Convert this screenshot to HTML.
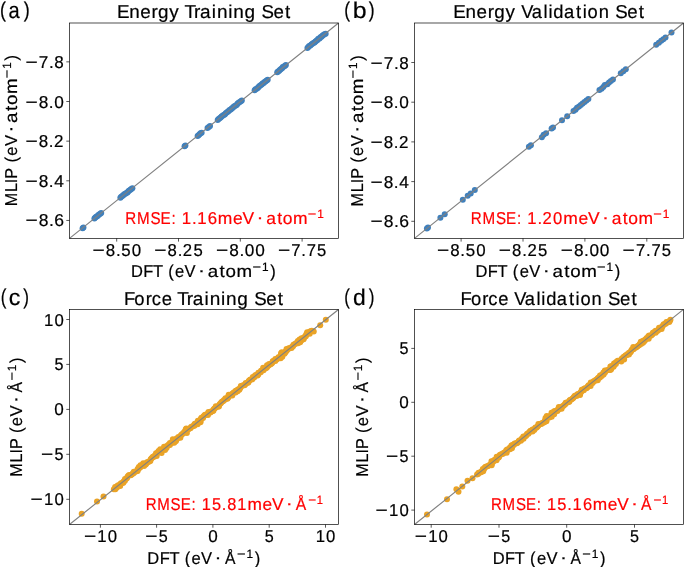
<!DOCTYPE html>
<html><head><meta charset="utf-8"><style>
html,body{margin:0;padding:0;background:#fff;}
svg{display:block;will-change:transform;text-rendering:geometricPrecision;font-family:"Liberation Sans",sans-serif;}
</style></head><body>
<svg width="685" height="567" viewBox="0 0 685 567">
<rect width="685" height="567" fill="#fff"/>
<g fill="#4080bc">
<circle cx="82.62" cy="228.14" r="3.0"/>
<circle cx="83.44" cy="227.52" r="3.0"/>
<circle cx="94.41" cy="218.47" r="3.0"/>
<circle cx="95.30" cy="217.59" r="3.0"/>
<circle cx="96.24" cy="216.78" r="3.0"/>
<circle cx="97.32" cy="216.13" r="3.0"/>
<circle cx="98.19" cy="215.23" r="3.0"/>
<circle cx="99.12" cy="214.40" r="3.0"/>
<circle cx="100.25" cy="213.82" r="3.0"/>
<circle cx="101.21" cy="213.03" r="3.0"/>
<circle cx="120.35" cy="197.79" r="3.0"/>
<circle cx="121.21" cy="196.81" r="3.0"/>
<circle cx="122.30" cy="196.12" r="3.0"/>
<circle cx="123.29" cy="195.31" r="3.0"/>
<circle cx="124.16" cy="194.34" r="3.0"/>
<circle cx="125.35" cy="193.78" r="3.0"/>
<circle cx="126.33" cy="192.96" r="3.0"/>
<circle cx="127.52" cy="192.40" r="3.0"/>
<circle cx="128.32" cy="191.34" r="3.0"/>
<circle cx="129.29" cy="190.50" r="3.0"/>
<circle cx="130.42" cy="189.86" r="3.0"/>
<circle cx="131.32" cy="188.94" r="3.0"/>
<circle cx="132.39" cy="188.22" r="3.0"/>
<circle cx="184.57" cy="146.19" r="3.0"/>
<circle cx="185.42" cy="145.62" r="3.0"/>
<circle cx="197.60" cy="136.02" r="3.0"/>
<circle cx="198.59" cy="135.17" r="3.0"/>
<circle cx="199.56" cy="134.28" r="3.0"/>
<circle cx="200.47" cy="133.32" r="3.0"/>
<circle cx="201.64" cy="132.67" r="3.0"/>
<circle cx="207.51" cy="127.91" r="3.0"/>
<circle cx="208.82" cy="126.98" r="3.0"/>
<circle cx="210.02" cy="125.92" r="3.0"/>
<circle cx="217.70" cy="119.94" r="3.0"/>
<circle cx="218.60" cy="119.00" r="3.0"/>
<circle cx="219.64" cy="118.22" r="3.0"/>
<circle cx="220.69" cy="117.47" r="3.0"/>
<circle cx="221.53" cy="116.45" r="3.0"/>
<circle cx="222.60" cy="115.73" r="3.0"/>
<circle cx="223.60" cy="114.91" r="3.0"/>
<circle cx="224.84" cy="114.39" r="3.0"/>
<circle cx="225.66" cy="113.34" r="3.0"/>
<circle cx="226.74" cy="112.62" r="3.0"/>
<circle cx="227.74" cy="111.81" r="3.0"/>
<circle cx="228.67" cy="110.90" r="3.0"/>
<circle cx="229.55" cy="109.94" r="3.0"/>
<circle cx="230.80" cy="109.43" r="3.0"/>
<circle cx="231.68" cy="108.46" r="3.0"/>
<circle cx="232.79" cy="107.78" r="3.0"/>
<circle cx="233.61" cy="106.74" r="3.0"/>
<circle cx="234.70" cy="106.03" r="3.0"/>
<circle cx="235.87" cy="105.42" r="3.0"/>
<circle cx="236.89" cy="104.64" r="3.0"/>
<circle cx="237.64" cy="103.51" r="3.0"/>
<circle cx="238.65" cy="102.70" r="3.0"/>
<circle cx="239.78" cy="102.04" r="3.0"/>
<circle cx="240.86" cy="101.32" r="3.0"/>
<circle cx="241.82" cy="100.45" r="3.0"/>
<circle cx="254.63" cy="90.22" r="3.0"/>
<circle cx="255.51" cy="89.26" r="3.0"/>
<circle cx="256.67" cy="88.64" r="3.0"/>
<circle cx="257.73" cy="87.89" r="3.0"/>
<circle cx="258.59" cy="86.90" r="3.0"/>
<circle cx="259.50" cy="85.98" r="3.0"/>
<circle cx="260.58" cy="85.25" r="3.0"/>
<circle cx="261.73" cy="84.62" r="3.0"/>
<circle cx="262.50" cy="83.52" r="3.0"/>
<circle cx="263.66" cy="82.91" r="3.0"/>
<circle cx="264.58" cy="82.00" r="3.0"/>
<circle cx="265.67" cy="81.29" r="3.0"/>
<circle cx="266.67" cy="80.47" r="3.0"/>
<circle cx="267.70" cy="79.69" r="3.0"/>
<circle cx="277.24" cy="72.34" r="3.0"/>
<circle cx="278.13" cy="71.42" r="3.0"/>
<circle cx="279.20" cy="70.74" r="3.0"/>
<circle cx="280.05" cy="69.77" r="3.0"/>
<circle cx="281.01" cy="68.94" r="3.0"/>
<circle cx="282.08" cy="68.25" r="3.0"/>
<circle cx="282.77" cy="67.08" r="3.0"/>
<circle cx="284.02" cy="66.62" r="3.0"/>
<circle cx="285.03" cy="65.85" r="3.0"/>
<circle cx="285.88" cy="64.89" r="3.0"/>
<circle cx="307.44" cy="47.96" r="3.0"/>
<circle cx="308.35" cy="47.03" r="3.0"/>
<circle cx="309.18" cy="46.00" r="3.0"/>
<circle cx="310.40" cy="45.46" r="3.0"/>
<circle cx="311.33" cy="44.57" r="3.0"/>
<circle cx="312.38" cy="43.82" r="3.0"/>
<circle cx="313.42" cy="43.05" r="3.0"/>
<circle cx="314.56" cy="42.41" r="3.0"/>
<circle cx="315.45" cy="41.47" r="3.0"/>
<circle cx="316.45" cy="40.65" r="3.0"/>
<circle cx="317.49" cy="39.90" r="3.0"/>
<circle cx="318.29" cy="38.83" r="3.0"/>
<circle cx="319.58" cy="38.39" r="3.0"/>
<circle cx="320.37" cy="37.31" r="3.0"/>
<circle cx="321.52" cy="36.68" r="3.0"/>
<circle cx="322.38" cy="35.69" r="3.0"/>
<circle cx="323.40" cy="34.91" r="3.0"/>
<circle cx="324.46" cy="34.17" r="3.0"/>
<circle cx="325.68" cy="33.63" r="3.0"/>
</g>
<g fill="#4080bc">
<circle cx="426.90" cy="228.47" r="3.0"/>
<circle cx="428.00" cy="227.59" r="3.0"/>
<circle cx="440.40" cy="217.66" r="3.0"/>
<circle cx="444.70" cy="214.22" r="3.0"/>
<circle cx="462.80" cy="199.72" r="3.0"/>
<circle cx="467.70" cy="195.80" r="3.0"/>
<circle cx="470.70" cy="193.40" r="3.0"/>
<circle cx="474.80" cy="190.12" r="3.0"/>
<circle cx="528.90" cy="146.79" r="3.0"/>
<circle cx="530.90" cy="145.19" r="3.0"/>
<circle cx="541.87" cy="137.16" r="3.0"/>
<circle cx="543.65" cy="134.77" r="3.0"/>
<circle cx="546.06" cy="133.18" r="3.0"/>
<circle cx="551.60" cy="128.62" r="3.0"/>
<circle cx="553.00" cy="127.50" r="3.0"/>
<circle cx="562.00" cy="120.29" r="3.0"/>
<circle cx="567.20" cy="116.13" r="3.0"/>
<circle cx="573.52" cy="111.11" r="3.0"/>
<circle cx="575.49" cy="109.75" r="3.0"/>
<circle cx="577.01" cy="107.83" r="3.0"/>
<circle cx="579.02" cy="106.53" r="3.0"/>
<circle cx="580.83" cy="104.97" r="3.0"/>
<circle cx="582.64" cy="103.42" r="3.0"/>
<circle cx="584.54" cy="101.97" r="3.0"/>
<circle cx="586.46" cy="100.54" r="3.0"/>
<circle cx="588.36" cy="99.09" r="3.0"/>
<circle cx="599.46" cy="90.01" r="3.0"/>
<circle cx="601.57" cy="88.74" r="3.0"/>
<circle cx="603.31" cy="87.03" r="3.0"/>
<circle cx="604.80" cy="84.99" r="3.0"/>
<circle cx="607.39" cy="84.33" r="3.0"/>
<circle cx="609.04" cy="82.50" r="3.0"/>
<circle cx="610.88" cy="80.91" r="3.0"/>
<circle cx="612.94" cy="79.58" r="3.0"/>
<circle cx="620.80" cy="73.21" r="3.0"/>
<circle cx="623.30" cy="71.20" r="3.0"/>
<circle cx="625.80" cy="69.20" r="3.0"/>
<circle cx="656.20" cy="44.86" r="3.0"/>
<circle cx="658.90" cy="42.70" r="3.0"/>
<circle cx="661.20" cy="40.86" r="3.0"/>
<circle cx="663.30" cy="39.18" r="3.0"/>
<circle cx="665.50" cy="37.41" r="3.0"/>
<circle cx="671.50" cy="32.61" r="3.0"/>
</g>
<g fill="#eaa326">
<circle cx="113.85" cy="489.16" r="3.0"/>
<circle cx="115.36" cy="489.20" r="3.0"/>
<circle cx="115.11" cy="487.04" r="3.0"/>
<circle cx="117.03" cy="487.59" r="3.0"/>
<circle cx="117.26" cy="486.04" r="3.0"/>
<circle cx="118.16" cy="485.32" r="3.0"/>
<circle cx="120.21" cy="486.04" r="3.0"/>
<circle cx="120.18" cy="484.16" r="3.0"/>
<circle cx="120.98" cy="483.31" r="3.0"/>
<circle cx="122.29" cy="483.10" r="3.0"/>
<circle cx="123.40" cy="482.65" r="3.0"/>
<circle cx="123.68" cy="481.16" r="3.0"/>
<circle cx="124.91" cy="480.85" r="3.0"/>
<circle cx="124.98" cy="479.10" r="3.0"/>
<circle cx="126.21" cy="478.78" r="3.0"/>
<circle cx="127.07" cy="478.01" r="3.0"/>
<circle cx="127.49" cy="476.70" r="3.0"/>
<circle cx="128.30" cy="475.86" r="3.0"/>
<circle cx="129.14" cy="475.06" r="3.0"/>
<circle cx="130.77" cy="475.27" r="3.0"/>
<circle cx="131.71" cy="474.59" r="3.0"/>
<circle cx="132.53" cy="473.77" r="3.0"/>
<circle cx="133.64" cy="473.31" r="3.0"/>
<circle cx="133.79" cy="471.66" r="3.0"/>
<circle cx="135.36" cy="471.78" r="3.0"/>
<circle cx="136.43" cy="471.27" r="3.0"/>
<circle cx="137.60" cy="470.89" r="3.0"/>
<circle cx="137.65" cy="469.11" r="3.0"/>
<circle cx="138.79" cy="468.69" r="3.0"/>
<circle cx="138.83" cy="466.89" r="3.0"/>
<circle cx="140.53" cy="467.18" r="3.0"/>
<circle cx="140.53" cy="465.34" r="3.0"/>
<circle cx="141.85" cy="465.13" r="3.0"/>
<circle cx="144.08" cy="466.09" r="3.0"/>
<circle cx="143.23" cy="463.17" r="3.0"/>
<circle cx="145.72" cy="464.45" r="3.0"/>
<circle cx="146.37" cy="463.41" r="3.0"/>
<circle cx="146.93" cy="462.27" r="3.0"/>
<circle cx="148.24" cy="462.06" r="3.0"/>
<circle cx="149.18" cy="461.39" r="3.0"/>
<circle cx="150.35" cy="461.01" r="3.0"/>
<circle cx="150.58" cy="459.45" r="3.0"/>
<circle cx="151.29" cy="458.49" r="3.0"/>
<circle cx="152.18" cy="457.76" r="3.0"/>
<circle cx="152.88" cy="456.79" r="3.0"/>
<circle cx="154.28" cy="456.69" r="3.0"/>
<circle cx="154.78" cy="455.48" r="3.0"/>
<circle cx="156.67" cy="455.99" r="3.0"/>
<circle cx="156.01" cy="453.32" r="3.0"/>
<circle cx="157.32" cy="453.12" r="3.0"/>
<circle cx="158.29" cy="452.49" r="3.0"/>
<circle cx="158.59" cy="451.02" r="3.0"/>
<circle cx="161.61" cy="452.95" r="3.0"/>
<circle cx="160.22" cy="449.37" r="3.0"/>
<circle cx="162.25" cy="450.06" r="3.0"/>
<circle cx="163.02" cy="449.18" r="3.0"/>
<circle cx="165.08" cy="449.91" r="3.0"/>
<circle cx="164.05" cy="446.77" r="3.0"/>
<circle cx="166.57" cy="448.08" r="3.0"/>
<circle cx="166.51" cy="446.17" r="3.0"/>
<circle cx="167.72" cy="445.83" r="3.0"/>
<circle cx="168.34" cy="444.77" r="3.0"/>
<circle cx="169.94" cy="444.92" r="3.0"/>
<circle cx="169.90" cy="443.02" r="3.0"/>
<circle cx="171.36" cy="443.00" r="3.0"/>
<circle cx="172.49" cy="442.57" r="3.0"/>
<circle cx="174.18" cy="442.84" r="3.0"/>
<circle cx="172.82" cy="439.30" r="3.0"/>
<circle cx="175.81" cy="441.19" r="3.0"/>
<circle cx="176.40" cy="440.09" r="3.0"/>
<circle cx="176.54" cy="438.42" r="3.0"/>
<circle cx="177.86" cy="438.22" r="3.0"/>
<circle cx="178.35" cy="436.99" r="3.0"/>
<circle cx="180.37" cy="437.68" r="3.0"/>
<circle cx="180.51" cy="436.00" r="3.0"/>
<circle cx="181.19" cy="435.00" r="3.0"/>
<circle cx="182.08" cy="434.27" r="3.0"/>
<circle cx="182.99" cy="433.57" r="3.0"/>
<circle cx="183.91" cy="432.87" r="3.0"/>
<circle cx="184.43" cy="431.68" r="3.0"/>
<circle cx="186.89" cy="432.91" r="3.0"/>
<circle cx="185.69" cy="429.56" r="3.0"/>
<circle cx="186.23" cy="428.39" r="3.0"/>
<circle cx="188.43" cy="429.31" r="3.0"/>
<circle cx="189.32" cy="428.57" r="3.0"/>
<circle cx="190.50" cy="428.20" r="3.0"/>
<circle cx="191.09" cy="427.09" r="3.0"/>
<circle cx="192.02" cy="426.41" r="3.0"/>
<circle cx="193.18" cy="426.01" r="3.0"/>
<circle cx="194.41" cy="425.72" r="3.0"/>
<circle cx="194.56" cy="424.06" r="3.0"/>
<circle cx="195.50" cy="423.39" r="3.0"/>
<circle cx="197.63" cy="424.20" r="3.0"/>
<circle cx="197.78" cy="422.55" r="3.0"/>
<circle cx="197.88" cy="420.82" r="3.0"/>
<circle cx="200.53" cy="422.30" r="3.0"/>
<circle cx="200.61" cy="420.55" r="3.0"/>
<circle cx="200.79" cy="418.93" r="3.0"/>
<circle cx="201.38" cy="417.82" r="3.0"/>
<circle cx="203.06" cy="418.08" r="3.0"/>
<circle cx="203.36" cy="416.61" r="3.0"/>
<circle cx="204.14" cy="415.74" r="3.0"/>
<circle cx="204.91" cy="414.86" r="3.0"/>
<circle cx="206.23" cy="414.67" r="3.0"/>
<circle cx="207.99" cy="415.02" r="3.0"/>
<circle cx="208.07" cy="413.28" r="3.0"/>
<circle cx="208.43" cy="411.88" r="3.0"/>
<circle cx="210.45" cy="412.57" r="3.0"/>
<circle cx="211.03" cy="411.45" r="3.0"/>
<circle cx="212.35" cy="411.25" r="3.0"/>
<circle cx="213.44" cy="410.76" r="3.0"/>
<circle cx="213.61" cy="409.14" r="3.0"/>
<circle cx="214.52" cy="408.43" r="3.0"/>
<circle cx="215.48" cy="407.78" r="3.0"/>
<circle cx="215.80" cy="406.34" r="3.0"/>
<circle cx="217.66" cy="406.81" r="3.0"/>
<circle cx="218.93" cy="406.56" r="3.0"/>
<circle cx="219.19" cy="405.05" r="3.0"/>
<circle cx="219.87" cy="404.05" r="3.0"/>
<circle cx="220.76" cy="403.32" r="3.0"/>
<circle cx="221.39" cy="402.25" r="3.0"/>
<circle cx="222.27" cy="401.52" r="3.0"/>
<circle cx="223.39" cy="401.07" r="3.0"/>
<circle cx="224.05" cy="400.06" r="3.0"/>
<circle cx="225.17" cy="399.61" r="3.0"/>
<circle cx="225.46" cy="398.13" r="3.0"/>
<circle cx="227.39" cy="398.69" r="3.0"/>
<circle cx="228.13" cy="397.77" r="3.0"/>
<circle cx="228.39" cy="396.25" r="3.0"/>
<circle cx="228.68" cy="394.77" r="3.0"/>
<circle cx="230.80" cy="395.57" r="3.0"/>
<circle cx="232.29" cy="395.59" r="3.0"/>
<circle cx="232.21" cy="393.65" r="3.0"/>
<circle cx="233.24" cy="393.10" r="3.0"/>
<circle cx="234.10" cy="392.33" r="3.0"/>
<circle cx="235.65" cy="392.42" r="3.0"/>
<circle cx="235.71" cy="390.66" r="3.0"/>
<circle cx="237.62" cy="391.20" r="3.0"/>
<circle cx="237.84" cy="389.62" r="3.0"/>
<circle cx="239.39" cy="389.72" r="3.0"/>
<circle cx="239.82" cy="388.41" r="3.0"/>
<circle cx="240.58" cy="387.51" r="3.0"/>
<circle cx="240.82" cy="385.97" r="3.0"/>
<circle cx="242.14" cy="385.77" r="3.0"/>
<circle cx="243.26" cy="385.34" r="3.0"/>
<circle cx="244.65" cy="385.23" r="3.0"/>
<circle cx="245.33" cy="384.23" r="3.0"/>
<circle cx="245.73" cy="382.89" r="3.0"/>
<circle cx="247.22" cy="382.90" r="3.0"/>
<circle cx="248.42" cy="382.57" r="3.0"/>
<circle cx="248.72" cy="381.09" r="3.0"/>
<circle cx="249.47" cy="380.18" r="3.0"/>
<circle cx="250.39" cy="379.49" r="3.0"/>
<circle cx="251.93" cy="379.57" r="3.0"/>
<circle cx="252.69" cy="378.67" r="3.0"/>
<circle cx="252.81" cy="376.98" r="3.0"/>
<circle cx="254.40" cy="377.13" r="3.0"/>
<circle cx="254.85" cy="375.84" r="3.0"/>
<circle cx="255.60" cy="374.94" r="3.0"/>
<circle cx="257.56" cy="375.54" r="3.0"/>
<circle cx="258.24" cy="374.55" r="3.0"/>
<circle cx="258.32" cy="372.80" r="3.0"/>
<circle cx="259.64" cy="372.61" r="3.0"/>
<circle cx="260.77" cy="372.17" r="3.0"/>
<circle cx="261.06" cy="370.70" r="3.0"/>
<circle cx="262.24" cy="370.32" r="3.0"/>
<circle cx="263.55" cy="370.13" r="3.0"/>
<circle cx="263.15" cy="367.78" r="3.0"/>
<circle cx="265.17" cy="368.46" r="3.0"/>
<circle cx="266.29" cy="368.02" r="3.0"/>
<circle cx="267.07" cy="367.14" r="3.0"/>
<circle cx="266.99" cy="365.20" r="3.0"/>
<circle cx="268.77" cy="365.58" r="3.0"/>
<circle cx="269.04" cy="364.08" r="3.0"/>
<circle cx="270.70" cy="364.31" r="3.0"/>
<circle cx="271.62" cy="363.61" r="3.0"/>
<circle cx="272.31" cy="362.63" r="3.0"/>
<circle cx="272.69" cy="361.26" r="3.0"/>
<circle cx="273.69" cy="360.66" r="3.0"/>
<circle cx="275.35" cy="360.90" r="3.0"/>
<circle cx="275.32" cy="359.02" r="3.0"/>
<circle cx="276.96" cy="359.22" r="3.0"/>
<circle cx="277.87" cy="358.51" r="3.0"/>
<circle cx="278.35" cy="357.27" r="3.0"/>
<circle cx="280.67" cy="358.33" r="3.0"/>
<circle cx="280.34" cy="356.06" r="3.0"/>
<circle cx="282.34" cy="356.72" r="3.0"/>
<circle cx="281.03" cy="353.24" r="3.0"/>
<circle cx="281.81" cy="352.37" r="3.0"/>
<circle cx="284.42" cy="353.79" r="3.0"/>
<circle cx="285.14" cy="352.84" r="3.0"/>
<circle cx="285.53" cy="351.49" r="3.0"/>
<circle cx="286.57" cy="350.95" r="3.0"/>
<circle cx="286.49" cy="349.00" r="3.0"/>
<circle cx="288.07" cy="349.13" r="3.0"/>
<circle cx="288.75" cy="348.14" r="3.0"/>
<circle cx="290.08" cy="347.96" r="3.0"/>
<circle cx="291.57" cy="347.97" r="3.0"/>
<circle cx="292.03" cy="346.70" r="3.0"/>
<circle cx="293.10" cy="346.19" r="3.0"/>
<circle cx="293.43" cy="344.76" r="3.0"/>
<circle cx="294.47" cy="344.22" r="3.0"/>
<circle cx="295.66" cy="343.86" r="3.0"/>
<circle cx="296.35" cy="342.88" r="3.0"/>
<circle cx="298.07" cy="343.19" r="3.0"/>
<circle cx="297.84" cy="341.05" r="3.0"/>
<circle cx="300.20" cy="342.17" r="3.0"/>
<circle cx="299.58" cy="339.54" r="3.0"/>
<circle cx="301.56" cy="340.18" r="3.0"/>
<circle cx="301.49" cy="338.24" r="3.0"/>
<circle cx="303.67" cy="339.13" r="3.0"/>
<circle cx="303.77" cy="337.40" r="3.0"/>
<circle cx="304.81" cy="336.86" r="3.0"/>
<circle cx="305.90" cy="336.37" r="3.0"/>
<circle cx="306.06" cy="334.73" r="3.0"/>
<circle cx="306.75" cy="333.74" r="3.0"/>
<circle cx="307.12" cy="332.37" r="3.0"/>
<circle cx="309.75" cy="333.81" r="3.0"/>
<circle cx="309.63" cy="331.82" r="3.0"/>
<circle cx="310.59" cy="331.17" r="3.0"/>
<circle cx="311.78" cy="330.82" r="3.0"/>
<circle cx="313.76" cy="331.44" r="3.0"/>
<circle cx="81.70" cy="513.80" r="3.0"/>
<circle cx="97.00" cy="501.50" r="3.0"/>
<circle cx="103.50" cy="496.50" r="3.0"/>
<circle cx="320.20" cy="325.30" r="3.0"/>
<circle cx="325.80" cy="319.80" r="3.0"/>
</g>
<g fill="#eaa326">
<circle cx="477.02" cy="474.55" r="3.0"/>
<circle cx="478.15" cy="474.11" r="3.0"/>
<circle cx="478.56" cy="472.78" r="3.0"/>
<circle cx="479.89" cy="472.60" r="3.0"/>
<circle cx="481.09" cy="472.26" r="3.0"/>
<circle cx="481.72" cy="471.20" r="3.0"/>
<circle cx="483.23" cy="471.24" r="3.0"/>
<circle cx="482.83" cy="468.90" r="3.0"/>
<circle cx="484.24" cy="468.81" r="3.0"/>
<circle cx="484.73" cy="467.58" r="3.0"/>
<circle cx="485.58" cy="466.81" r="3.0"/>
<circle cx="486.80" cy="466.48" r="3.0"/>
<circle cx="487.92" cy="466.03" r="3.0"/>
<circle cx="488.92" cy="465.45" r="3.0"/>
<circle cx="489.87" cy="464.79" r="3.0"/>
<circle cx="491.69" cy="465.21" r="3.0"/>
<circle cx="491.86" cy="463.58" r="3.0"/>
<circle cx="491.45" cy="461.23" r="3.0"/>
<circle cx="493.31" cy="461.70" r="3.0"/>
<circle cx="493.77" cy="460.44" r="3.0"/>
<circle cx="494.73" cy="459.79" r="3.0"/>
<circle cx="496.59" cy="460.28" r="3.0"/>
<circle cx="496.68" cy="458.54" r="3.0"/>
<circle cx="496.66" cy="456.68" r="3.0"/>
<circle cx="498.76" cy="457.46" r="3.0"/>
<circle cx="499.35" cy="456.34" r="3.0"/>
<circle cx="499.78" cy="455.03" r="3.0"/>
<circle cx="500.81" cy="454.48" r="3.0"/>
<circle cx="501.87" cy="453.96" r="3.0"/>
<circle cx="503.09" cy="453.64" r="3.0"/>
<circle cx="503.77" cy="452.65" r="3.0"/>
<circle cx="504.94" cy="452.26" r="3.0"/>
<circle cx="506.77" cy="452.71" r="3.0"/>
<circle cx="506.28" cy="450.24" r="3.0"/>
<circle cx="507.17" cy="449.52" r="3.0"/>
<circle cx="508.37" cy="449.17" r="3.0"/>
<circle cx="509.98" cy="449.34" r="3.0"/>
<circle cx="509.93" cy="447.43" r="3.0"/>
<circle cx="511.96" cy="448.13" r="3.0"/>
<circle cx="511.41" cy="445.59" r="3.0"/>
<circle cx="512.45" cy="445.05" r="3.0"/>
<circle cx="513.87" cy="444.98" r="3.0"/>
<circle cx="514.34" cy="443.72" r="3.0"/>
<circle cx="515.37" cy="443.17" r="3.0"/>
<circle cx="516.84" cy="443.16" r="3.0"/>
<circle cx="517.88" cy="442.62" r="3.0"/>
<circle cx="518.46" cy="441.49" r="3.0"/>
<circle cx="519.15" cy="440.52" r="3.0"/>
<circle cx="520.91" cy="440.87" r="3.0"/>
<circle cx="521.31" cy="439.53" r="3.0"/>
<circle cx="521.88" cy="438.38" r="3.0"/>
<circle cx="523.54" cy="438.63" r="3.0"/>
<circle cx="523.32" cy="436.50" r="3.0"/>
<circle cx="524.79" cy="436.49" r="3.0"/>
<circle cx="525.95" cy="436.10" r="3.0"/>
<circle cx="526.49" cy="434.93" r="3.0"/>
<circle cx="527.10" cy="433.84" r="3.0"/>
<circle cx="528.49" cy="433.74" r="3.0"/>
<circle cx="528.91" cy="432.42" r="3.0"/>
<circle cx="529.78" cy="431.67" r="3.0"/>
<circle cx="530.46" cy="430.66" r="3.0"/>
<circle cx="532.59" cy="431.49" r="3.0"/>
<circle cx="532.51" cy="429.54" r="3.0"/>
<circle cx="534.31" cy="429.95" r="3.0"/>
<circle cx="534.80" cy="428.72" r="3.0"/>
<circle cx="535.36" cy="427.57" r="3.0"/>
<circle cx="536.75" cy="427.47" r="3.0"/>
<circle cx="537.44" cy="426.49" r="3.0"/>
<circle cx="538.27" cy="425.67" r="3.0"/>
<circle cx="538.37" cy="423.95" r="3.0"/>
<circle cx="540.04" cy="424.19" r="3.0"/>
<circle cx="541.37" cy="424.02" r="3.0"/>
<circle cx="542.06" cy="423.03" r="3.0"/>
<circle cx="543.23" cy="422.65" r="3.0"/>
<circle cx="544.39" cy="422.26" r="3.0"/>
<circle cx="544.72" cy="420.82" r="3.0"/>
<circle cx="546.45" cy="421.14" r="3.0"/>
<circle cx="545.50" cy="418.10" r="3.0"/>
<circle cx="547.07" cy="418.23" r="3.0"/>
<circle cx="546.76" cy="415.99" r="3.0"/>
<circle cx="549.44" cy="417.49" r="3.0"/>
<circle cx="549.95" cy="416.29" r="3.0"/>
<circle cx="551.70" cy="416.63" r="3.0"/>
<circle cx="551.51" cy="414.55" r="3.0"/>
<circle cx="551.52" cy="412.73" r="3.0"/>
<circle cx="554.18" cy="414.20" r="3.0"/>
<circle cx="553.69" cy="411.74" r="3.0"/>
<circle cx="554.63" cy="411.07" r="3.0"/>
<circle cx="556.11" cy="411.08" r="3.0"/>
<circle cx="557.43" cy="410.89" r="3.0"/>
<circle cx="557.73" cy="409.42" r="3.0"/>
<circle cx="559.00" cy="409.16" r="3.0"/>
<circle cx="558.80" cy="407.07" r="3.0"/>
<circle cx="561.62" cy="408.74" r="3.0"/>
<circle cx="561.56" cy="406.83" r="3.0"/>
<circle cx="562.56" cy="406.23" r="3.0"/>
<circle cx="563.71" cy="405.82" r="3.0"/>
<circle cx="564.39" cy="404.83" r="3.0"/>
<circle cx="565.31" cy="404.13" r="3.0"/>
<circle cx="565.61" cy="402.66" r="3.0"/>
<circle cx="566.94" cy="402.48" r="3.0"/>
<circle cx="568.13" cy="402.13" r="3.0"/>
<circle cx="569.35" cy="401.81" r="3.0"/>
<circle cx="569.64" cy="400.32" r="3.0"/>
<circle cx="570.65" cy="399.74" r="3.0"/>
<circle cx="571.68" cy="399.18" r="3.0"/>
<circle cx="572.70" cy="398.62" r="3.0"/>
<circle cx="573.41" cy="397.66" r="3.0"/>
<circle cx="574.07" cy="396.63" r="3.0"/>
<circle cx="574.83" cy="395.74" r="3.0"/>
<circle cx="576.60" cy="396.11" r="3.0"/>
<circle cx="577.06" cy="394.84" r="3.0"/>
<circle cx="577.81" cy="393.93" r="3.0"/>
<circle cx="580.07" cy="394.92" r="3.0"/>
<circle cx="580.07" cy="393.07" r="3.0"/>
<circle cx="580.95" cy="392.33" r="3.0"/>
<circle cx="581.48" cy="391.14" r="3.0"/>
<circle cx="581.76" cy="389.65" r="3.0"/>
<circle cx="583.80" cy="390.36" r="3.0"/>
<circle cx="584.05" cy="388.82" r="3.0"/>
<circle cx="585.03" cy="388.20" r="3.0"/>
<circle cx="586.45" cy="388.13" r="3.0"/>
<circle cx="587.34" cy="387.40" r="3.0"/>
<circle cx="587.83" cy="386.16" r="3.0"/>
<circle cx="588.61" cy="385.30" r="3.0"/>
<circle cx="590.61" cy="385.96" r="3.0"/>
<circle cx="590.70" cy="384.23" r="3.0"/>
<circle cx="590.76" cy="382.44" r="3.0"/>
<circle cx="592.60" cy="382.90" r="3.0"/>
<circle cx="593.18" cy="381.79" r="3.0"/>
<circle cx="594.02" cy="380.99" r="3.0"/>
<circle cx="595.26" cy="380.70" r="3.0"/>
<circle cx="595.92" cy="379.68" r="3.0"/>
<circle cx="597.76" cy="380.14" r="3.0"/>
<circle cx="597.71" cy="378.22" r="3.0"/>
<circle cx="598.63" cy="377.54" r="3.0"/>
<circle cx="600.02" cy="377.42" r="3.0"/>
<circle cx="600.00" cy="375.55" r="3.0"/>
<circle cx="601.74" cy="375.88" r="3.0"/>
<circle cx="602.07" cy="374.45" r="3.0"/>
<circle cx="603.63" cy="374.56" r="3.0"/>
<circle cx="603.45" cy="372.49" r="3.0"/>
<circle cx="605.02" cy="372.61" r="3.0"/>
<circle cx="604.85" cy="370.55" r="3.0"/>
<circle cx="606.37" cy="370.60" r="3.0"/>
<circle cx="607.51" cy="370.18" r="3.0"/>
<circle cx="608.66" cy="369.78" r="3.0"/>
<circle cx="610.35" cy="370.04" r="3.0"/>
<circle cx="611.18" cy="369.23" r="3.0"/>
<circle cx="610.39" cy="366.40" r="3.0"/>
<circle cx="611.60" cy="366.07" r="3.0"/>
<circle cx="613.56" cy="366.68" r="3.0"/>
<circle cx="614.03" cy="365.43" r="3.0"/>
<circle cx="613.98" cy="363.51" r="3.0"/>
<circle cx="615.86" cy="364.02" r="3.0"/>
<circle cx="615.90" cy="362.23" r="3.0"/>
<circle cx="616.94" cy="361.69" r="3.0"/>
<circle cx="617.63" cy="360.70" r="3.0"/>
<circle cx="619.06" cy="360.64" r="3.0"/>
<circle cx="621.29" cy="361.59" r="3.0"/>
<circle cx="621.20" cy="359.63" r="3.0"/>
<circle cx="621.84" cy="358.59" r="3.0"/>
<circle cx="624.13" cy="359.61" r="3.0"/>
<circle cx="623.45" cy="356.91" r="3.0"/>
<circle cx="624.52" cy="356.40" r="3.0"/>
<circle cx="625.36" cy="355.60" r="3.0"/>
<circle cx="626.62" cy="355.34" r="3.0"/>
<circle cx="627.14" cy="354.13" r="3.0"/>
<circle cx="628.97" cy="354.59" r="3.0"/>
<circle cx="628.95" cy="352.71" r="3.0"/>
<circle cx="630.30" cy="352.55" r="3.0"/>
<circle cx="631.02" cy="351.61" r="3.0"/>
<circle cx="631.35" cy="350.17" r="3.0"/>
<circle cx="632.18" cy="349.37" r="3.0"/>
<circle cx="633.57" cy="349.27" r="3.0"/>
<circle cx="633.28" cy="347.06" r="3.0"/>
<circle cx="635.41" cy="347.87" r="3.0"/>
<circle cx="636.34" cy="347.20" r="3.0"/>
<circle cx="637.28" cy="346.52" r="3.0"/>
<circle cx="638.06" cy="345.65" r="3.0"/>
<circle cx="639.19" cy="345.22" r="3.0"/>
<circle cx="639.72" cy="344.03" r="3.0"/>
<circle cx="641.14" cy="343.97" r="3.0"/>
<circle cx="640.84" cy="341.75" r="3.0"/>
<circle cx="643.08" cy="342.71" r="3.0"/>
<circle cx="643.03" cy="340.80" r="3.0"/>
<circle cx="644.66" cy="340.99" r="3.0"/>
<circle cx="645.05" cy="339.64" r="3.0"/>
<circle cx="645.97" cy="338.94" r="3.0"/>
<circle cx="646.68" cy="337.98" r="3.0"/>
<circle cx="648.71" cy="338.68" r="3.0"/>
<circle cx="648.32" cy="336.35" r="3.0"/>
<circle cx="649.16" cy="335.55" r="3.0"/>
<circle cx="650.82" cy="335.77" r="3.0"/>
<circle cx="651.74" cy="335.08" r="3.0"/>
<circle cx="652.52" cy="334.22" r="3.0"/>
<circle cx="652.89" cy="332.83" r="3.0"/>
<circle cx="653.96" cy="332.32" r="3.0"/>
<circle cx="655.68" cy="332.63" r="3.0"/>
<circle cx="655.55" cy="330.63" r="3.0"/>
<circle cx="657.32" cy="331.00" r="3.0"/>
<circle cx="658.29" cy="330.35" r="3.0"/>
<circle cx="658.87" cy="329.24" r="3.0"/>
<circle cx="659.06" cy="327.63" r="3.0"/>
<circle cx="661.61" cy="328.97" r="3.0"/>
<circle cx="661.57" cy="327.08" r="3.0"/>
<circle cx="662.50" cy="326.40" r="3.0"/>
<circle cx="663.10" cy="325.31" r="3.0"/>
<circle cx="663.70" cy="324.21" r="3.0"/>
<circle cx="664.96" cy="323.94" r="3.0"/>
<circle cx="666.11" cy="323.53" r="3.0"/>
<circle cx="666.45" cy="322.12" r="3.0"/>
<circle cx="667.86" cy="322.03" r="3.0"/>
<circle cx="669.31" cy="322.00" r="3.0"/>
<circle cx="669.83" cy="320.81" r="3.0"/>
<circle cx="670.45" cy="319.73" r="3.0"/>
<circle cx="427.00" cy="514.50" r="3.0"/>
<circle cx="447.00" cy="499.20" r="3.0"/>
<circle cx="456.40" cy="489.20" r="3.0"/>
<circle cx="458.50" cy="491.70" r="3.0"/>
<circle cx="462.30" cy="486.50" r="3.0"/>
<circle cx="467.50" cy="480.80" r="3.0"/>
<circle cx="472.50" cy="478.20" r="3.0"/>
</g>
<line x1="69.5" y1="238.4" x2="338.5" y2="23.0" stroke="#808080" stroke-width="1.15"/>
<rect x="69.5" y="23.0" width="269.00" height="215.40" fill="none" stroke="#000000" stroke-width="0.68"/>
<path d="M116.70 238.4v3.2 M178.50 238.4v3.2 M240.30 238.4v3.2 M302.10 238.4v3.2 M69.5 61.85h-3.2 M69.5 101.50h-3.2 M69.5 141.15h-3.2 M69.5 180.80h-3.2 M69.5 220.45h-3.2" stroke="#000000" stroke-width="0.66" fill="none"/>
<text transform="scale(1.2160,1)" x="76.06" y="256.10" font-size="17.22" fill="#000" stroke="#000" stroke-width="0.2">−</text>
<text transform="scale(0.9823,1)" x="107.69 118.01 123.49 134.14" y="256.10" font-size="17.22" fill="#000" stroke="#000" stroke-width="0.2">8.50</text>
<text transform="scale(1.2160,1)" x="126.89" y="256.10" font-size="17.22" fill="#000" stroke="#000" stroke-width="0.2">−</text>
<text transform="scale(0.9712,1)" x="172.56 182.94 188.31 199.11" y="256.10" font-size="17.22" fill="#000" stroke="#000" stroke-width="0.2">8.25</text>
<text transform="scale(1.2160,1)" x="177.71" y="256.10" font-size="17.22" fill="#000" stroke="#000" stroke-width="0.2">−</text>
<text transform="scale(0.9998,1)" x="229.41 239.56 244.92 255.26" y="256.10" font-size="17.22" fill="#000" stroke="#000" stroke-width="0.2">8.00</text>
<text transform="scale(1.2160,1)" x="228.53" y="256.10" font-size="17.22" fill="#000" stroke="#000" stroke-width="0.2">−</text>
<text transform="scale(0.9653,1)" x="301.78 312.21 317.79 328.44" y="256.10" font-size="17.22" fill="#000" stroke="#000" stroke-width="0.2">7.75</text>
<text transform="scale(1.2160,1)" x="20.91" y="67.85" font-size="17.22" fill="#000" stroke="#000" stroke-width="0.2">−</text>
<text transform="scale(0.9926,1)" x="39.10 49.33 54.73" y="67.85" font-size="17.22" fill="#000" stroke="#000" stroke-width="0.2">7.8</text>
<text transform="scale(1.2160,1)" x="20.91" y="107.50" font-size="17.22" fill="#000" stroke="#000" stroke-width="0.2">−</text>
<text transform="scale(1.0021,1)" x="38.63 48.75 54.08" y="107.50" font-size="17.22" fill="#000" stroke="#000" stroke-width="0.2">8.0</text>
<text transform="scale(1.2160,1)" x="20.91" y="147.15" font-size="17.22" fill="#000" stroke="#000" stroke-width="0.2">−</text>
<text transform="scale(0.9862,1)" x="39.26 49.50 54.74" y="147.15" font-size="17.22" fill="#000" stroke="#000" stroke-width="0.2">8.2</text>
<text transform="scale(1.2160,1)" x="20.91" y="186.80" font-size="17.22" fill="#000" stroke="#000" stroke-width="0.2">−</text>
<text transform="scale(1.0020,1)" x="38.63 48.75 54.09" y="186.80" font-size="17.22" fill="#000" stroke="#000" stroke-width="0.2">8.4</text>
<text transform="scale(1.2160,1)" x="20.91" y="226.45" font-size="17.22" fill="#000" stroke="#000" stroke-width="0.2">−</text>
<text transform="scale(1.0179,1)" x="38.02 48.03 53.25" y="226.45" font-size="17.22" fill="#000" stroke="#000" stroke-width="0.2">8.6</text>
<line x1="414.5" y1="238.4" x2="683.5" y2="23.0" stroke="#808080" stroke-width="1.15"/>
<rect x="414.5" y="23.0" width="269.00" height="215.40" fill="none" stroke="#000000" stroke-width="0.68"/>
<path d="M461.10 238.4v3.2 M523.00 238.4v3.2 M584.90 238.4v3.2 M646.80 238.4v3.2 M414.5 62.50h-3.2 M414.5 102.20h-3.2 M414.5 141.90h-3.2 M414.5 181.60h-3.2 M414.5 221.30h-3.2" stroke="#000000" stroke-width="0.66" fill="none"/>
<text transform="scale(1.2160,1)" x="359.29" y="256.10" font-size="17.22" fill="#000" stroke="#000" stroke-width="0.2">−</text>
<text transform="scale(0.9823,1)" x="458.27 468.60 474.08 484.73" y="256.10" font-size="17.22" fill="#000" stroke="#000" stroke-width="0.2">8.50</text>
<text transform="scale(1.2160,1)" x="410.20" y="256.10" font-size="17.22" fill="#000" stroke="#000" stroke-width="0.2">−</text>
<text transform="scale(0.9712,1)" x="527.27 537.65 543.02 553.83" y="256.10" font-size="17.22" fill="#000" stroke="#000" stroke-width="0.2">8.25</text>
<text transform="scale(1.2160,1)" x="461.10" y="256.10" font-size="17.22" fill="#000" stroke="#000" stroke-width="0.2">−</text>
<text transform="scale(0.9998,1)" x="574.07 584.22 589.58 599.92" y="256.10" font-size="17.22" fill="#000" stroke="#000" stroke-width="0.2">8.00</text>
<text transform="scale(1.2160,1)" x="512.01" y="256.10" font-size="17.22" fill="#000" stroke="#000" stroke-width="0.2">−</text>
<text transform="scale(0.9653,1)" x="658.88 669.32 674.90 685.55" y="256.10" font-size="17.22" fill="#000" stroke="#000" stroke-width="0.2">7.75</text>
<text transform="scale(1.2160,1)" x="304.64" y="68.50" font-size="17.22" fill="#000" stroke="#000" stroke-width="0.2">−</text>
<text transform="scale(0.9926,1)" x="386.68 396.90 402.30" y="68.50" font-size="17.22" fill="#000" stroke="#000" stroke-width="0.2">7.8</text>
<text transform="scale(1.2160,1)" x="304.64" y="108.20" font-size="17.22" fill="#000" stroke="#000" stroke-width="0.2">−</text>
<text transform="scale(1.0021,1)" x="382.90 393.02 398.36" y="108.20" font-size="17.22" fill="#000" stroke="#000" stroke-width="0.2">8.0</text>
<text transform="scale(1.2160,1)" x="304.64" y="147.90" font-size="17.22" fill="#000" stroke="#000" stroke-width="0.2">−</text>
<text transform="scale(0.9862,1)" x="389.08 399.32 404.56" y="147.90" font-size="17.22" fill="#000" stroke="#000" stroke-width="0.2">8.2</text>
<text transform="scale(1.2160,1)" x="304.64" y="187.60" font-size="17.22" fill="#000" stroke="#000" stroke-width="0.2">−</text>
<text transform="scale(1.0020,1)" x="382.95 393.07 398.41" y="187.60" font-size="17.22" fill="#000" stroke="#000" stroke-width="0.2">8.4</text>
<text transform="scale(1.2160,1)" x="304.64" y="227.30" font-size="17.22" fill="#000" stroke="#000" stroke-width="0.2">−</text>
<text transform="scale(1.0179,1)" x="376.96 386.97 392.19" y="227.30" font-size="17.22" fill="#000" stroke="#000" stroke-width="0.2">8.6</text>
<line x1="69.5" y1="524.5" x2="338.5" y2="309.5" stroke="#808080" stroke-width="1.15"/>
<rect x="69.5" y="309.5" width="269.00" height="215.00" fill="none" stroke="#000000" stroke-width="0.68"/>
<path d="M100.40 524.5v3.2 M156.60 524.5v3.2 M212.90 524.5v3.2 M269.20 524.5v3.2 M325.50 524.5v3.2 M69.5 319.50h-3.2 M69.5 364.40h-3.2 M69.5 409.40h-3.2 M69.5 454.30h-3.2 M69.5 499.30h-3.2" stroke="#000000" stroke-width="0.66" fill="none"/>
<text transform="scale(1.2160,1)" x="69.03" y="542.20" font-size="17.22" fill="#000" stroke="#000" stroke-width="0.2">−</text>
<text transform="scale(0.9737,1)" x="100.01 110.71" y="542.20" font-size="17.22" fill="#000" stroke="#000" stroke-width="0.2">10</text>
<text transform="scale(1.2160,1)" x="119.50" y="542.20" font-size="17.22" fill="#000" stroke="#000" stroke-width="0.2">−</text>
<text transform="scale(0.9389,1)" x="169.18" y="542.20" font-size="17.22" fill="#000" stroke="#000" stroke-width="0.2">5</text>
<text transform="scale(0.9949,1)" x="209.21" y="542.20" font-size="17.22" fill="#000" stroke="#000" stroke-width="0.2">0</text>
<text transform="scale(0.9389,1)" x="281.86" y="542.20" font-size="17.22" fill="#000" stroke="#000" stroke-width="0.2">5</text>
<text transform="scale(0.9737,1)" x="324.21 334.91" y="542.20" font-size="17.22" fill="#000" stroke="#000" stroke-width="0.2">10</text>
<text transform="scale(0.9737,1)" x="45.22 55.92" y="325.50" font-size="17.22" fill="#000" stroke="#000" stroke-width="0.2">10</text>
<text transform="scale(0.9389,1)" x="58.01" y="370.40" font-size="17.22" fill="#000" stroke="#000" stroke-width="0.2">5</text>
<text transform="scale(0.9949,1)" x="54.54" y="415.40" font-size="17.22" fill="#000" stroke="#000" stroke-width="0.2">0</text>
<text transform="scale(1.2160,1)" x="33.66" y="460.30" font-size="17.22" fill="#000" stroke="#000" stroke-width="0.2">−</text>
<text transform="scale(0.9389,1)" x="58.01" y="460.30" font-size="17.22" fill="#000" stroke="#000" stroke-width="0.2">5</text>
<text transform="scale(1.2160,1)" x="25.16" y="505.30" font-size="17.22" fill="#000" stroke="#000" stroke-width="0.2">−</text>
<text transform="scale(0.9737,1)" x="45.22 55.92" y="505.30" font-size="17.22" fill="#000" stroke="#000" stroke-width="0.2">10</text>
<line x1="414.5" y1="524.5" x2="683.5" y2="309.4" stroke="#808080" stroke-width="1.15"/>
<rect x="414.5" y="309.4" width="269.00" height="215.10" fill="none" stroke="#000000" stroke-width="0.68"/>
<path d="M431.20 524.5v3.2 M499.00 524.5v3.2 M566.70 524.5v3.2 M634.50 524.5v3.2 M414.5 348.40h-3.2 M414.5 402.30h-3.2 M414.5 456.20h-3.2 M414.5 510.10h-3.2" stroke="#000000" stroke-width="0.66" fill="none"/>
<text transform="scale(1.2160,1)" x="341.08" y="542.20" font-size="17.22" fill="#000" stroke="#000" stroke-width="0.2">−</text>
<text transform="scale(0.9737,1)" x="439.76 450.46" y="542.20" font-size="17.22" fill="#000" stroke="#000" stroke-width="0.2">10</text>
<text transform="scale(1.2160,1)" x="401.09" y="542.20" font-size="17.22" fill="#000" stroke="#000" stroke-width="0.2">−</text>
<text transform="scale(0.9389,1)" x="533.86" y="542.20" font-size="17.22" fill="#000" stroke="#000" stroke-width="0.2">5</text>
<text transform="scale(0.9949,1)" x="564.84" y="542.20" font-size="17.22" fill="#000" stroke="#000" stroke-width="0.2">0</text>
<text transform="scale(0.9389,1)" x="670.93" y="542.20" font-size="17.22" fill="#000" stroke="#000" stroke-width="0.2">5</text>
<text transform="scale(0.9389,1)" x="425.46" y="354.40" font-size="17.22" fill="#000" stroke="#000" stroke-width="0.2">5</text>
<text transform="scale(0.9949,1)" x="401.33" y="408.30" font-size="17.22" fill="#000" stroke="#000" stroke-width="0.2">0</text>
<text transform="scale(1.2160,1)" x="317.39" y="462.20" font-size="17.22" fill="#000" stroke="#000" stroke-width="0.2">−</text>
<text transform="scale(0.9389,1)" x="425.46" y="462.20" font-size="17.22" fill="#000" stroke="#000" stroke-width="0.2">5</text>
<text transform="scale(1.2160,1)" x="308.88" y="516.10" font-size="17.22" fill="#000" stroke="#000" stroke-width="0.2">−</text>
<text transform="scale(0.9737,1)" x="399.55 410.26" y="516.10" font-size="17.22" fill="#000" stroke="#000" stroke-width="0.2">10</text>
<text transform="scale(0.8322,1)" x="0.06" y="16.50" font-size="21.30" fill="#000" stroke="#000" stroke-width="0.2">(</text>
<text transform="scale(0.8795,1)" x="9.61" y="17.60" font-size="22.80" fill="#000" stroke="#000" stroke-width="0.2">a</text>
<text transform="scale(0.8411,1)" x="28.29" y="16.50" font-size="21.30" fill="#000" stroke="#000" stroke-width="0.2">)</text>
<text transform="scale(0.8145,1)" x="422.66" y="16.50" font-size="21.30" fill="#000" stroke="#000" stroke-width="0.2">(</text>
<text transform="scale(1.0923,1)" x="322.84" y="17.60" font-size="22.80" fill="#000" stroke="#000" stroke-width="0.2">b</text>
<text transform="scale(0.8234,1)" x="447.84" y="16.50" font-size="21.30" fill="#000" stroke="#000" stroke-width="0.2">)</text>
<text transform="scale(0.7894,1)" x="0.82" y="304.00" font-size="21.50" fill="#000" stroke="#000" stroke-width="0.2">(</text>
<text transform="scale(1.0173,1)" x="8.71" y="305.30" font-size="22.80" fill="#000" stroke="#000" stroke-width="0.2">c</text>
<text transform="scale(0.7982,1)" x="29.13" y="304.00" font-size="21.50" fill="#000" stroke="#000" stroke-width="0.2">)</text>
<text transform="scale(0.7806,1)" x="441.06" y="304.00" font-size="21.50" fill="#000" stroke="#000" stroke-width="0.2">(</text>
<text transform="scale(1.0046,1)" x="351.39" y="305.30" font-size="22.80" fill="#000" stroke="#000" stroke-width="0.2">d</text>
<text transform="scale(0.7982,1)" x="461.99" y="304.00" font-size="21.50" fill="#000" stroke="#000" stroke-width="0.2">)</text>
<text transform="scale(1.0103,1)" x="115.76 127.91 138.77 150.06 156.35 167.63" y="18.10" font-size="18.65" fill="#000" stroke="#000" stroke-width="0.2">Energy</text>
<text transform="scale(1.0189,1)" x="181.05 190.38 196.30 207.93 212.86 223.97 228.91 239.92" y="18.10" font-size="18.65" fill="#000" stroke="#000" stroke-width="0.2">Training</text>
<text transform="scale(1.0026,1)" x="260.74 272.77 284.19" y="18.10" font-size="18.65" fill="#000" stroke="#000" stroke-width="0.2">Set</text>
<text transform="scale(1.0091,1)" x="449.16 461.30 472.16 483.46 489.74 501.03" y="18.10" font-size="18.65" fill="#000" stroke="#000" stroke-width="0.2">Energy</text>
<text transform="scale(0.9835,1)" x="529.96 540.69 552.56 557.62 562.67 573.44 585.79 592.45 597.41 608.76" y="18.10" font-size="18.65" fill="#000" stroke="#000" stroke-width="0.2">Validation</text>
<text transform="scale(1.0015,1)" x="614.35 626.38 637.80" y="18.10" font-size="18.65" fill="#000" stroke="#000" stroke-width="0.2">Set</text>
<text transform="scale(0.9886,1)" x="125.42 135.89 147.41 153.45 163.53" y="305.20" font-size="18.65" fill="#000" stroke="#000" stroke-width="0.2">Force</text>
<text transform="scale(1.0183,1)" x="174.05 183.38 189.31 200.93 205.87 216.97 221.91 232.93" y="305.20" font-size="18.65" fill="#000" stroke="#000" stroke-width="0.2">Training</text>
<text transform="scale(1.0020,1)" x="253.63 265.66 277.08" y="305.20" font-size="18.65" fill="#000" stroke="#000" stroke-width="0.2">Set</text>
<text transform="scale(0.9857,1)" x="467.29 477.76 489.27 495.31 505.39" y="305.20" font-size="18.65" fill="#000" stroke="#000" stroke-width="0.2">Force</text>
<text transform="scale(0.9812,1)" x="524.06 534.79 546.67 551.72 556.77 567.54 579.89 586.55 591.51 602.86" y="305.20" font-size="18.65" fill="#000" stroke="#000" stroke-width="0.2">Validation</text>
<text transform="scale(0.9991,1)" x="608.56 620.59 632.01" y="305.20" font-size="18.65" fill="#000" stroke="#000" stroke-width="0.2">Set</text>
<text transform="scale(0.8811,1)" x="142.27 155.36 170.71 182.27 194.59" y="224.00" font-size="17.22" fill="#ff0000" stroke="#ff0000" stroke-width="0.2">RMSE:</text>
<text transform="scale(0.9767,1)" x="186.14 196.55 202.00 212.66" y="224.00" font-size="17.22" fill="#ff0000" stroke="#ff0000" stroke-width="0.2">1.16</text>
<text transform="scale(1.0144,1)" x="214.56 229.61 238.98" y="224.00" font-size="17.22" fill="#ff0000" stroke="#ff0000" stroke-width="0.2">meV</text>
<text transform="scale(1.2199,1)" x="210.27" y="223.10" font-size="17.22" fill="#ff0000" stroke="#ff0000" stroke-width="0.2">·</text>
<text transform="scale(1.0135,1)" x="262.72 273.55 279.06 289.13" y="224.00" font-size="17.22" fill="#ff0000" stroke="#ff0000" stroke-width="0.2">atom</text>
<text transform="scale(1.2098,1)" x="254.48" y="218.30" font-size="12.08" fill="#ff0000" stroke="#ff0000" stroke-width="0.2">−</text>
<text transform="scale(0.9793,1)" x="324.02" y="218.30" font-size="12.08" fill="#ff0000" stroke="#ff0000" stroke-width="0.2">1</text>
<text transform="scale(0.8811,1)" x="534.40 547.49 562.83 574.40 586.71" y="224.00" font-size="17.22" fill="#ff0000" stroke="#ff0000" stroke-width="0.2">RMSE:</text>
<text transform="scale(0.9681,1)" x="544.67 555.12 560.49 571.35" y="224.00" font-size="17.22" fill="#ff0000" stroke="#ff0000" stroke-width="0.2">1.20</text>
<text transform="scale(1.0144,1)" x="555.15 570.20 579.57" y="224.00" font-size="17.22" fill="#ff0000" stroke="#ff0000" stroke-width="0.2">meV</text>
<text transform="scale(1.2199,1)" x="493.48" y="223.10" font-size="17.22" fill="#ff0000" stroke="#ff0000" stroke-width="0.2">·</text>
<text transform="scale(1.0135,1)" x="603.64 614.46 619.97 630.04" y="224.00" font-size="17.22" fill="#ff0000" stroke="#ff0000" stroke-width="0.2">atom</text>
<text transform="scale(1.2098,1)" x="540.06" y="218.30" font-size="12.08" fill="#ff0000" stroke="#ff0000" stroke-width="0.2">−</text>
<text transform="scale(0.9793,1)" x="676.84" y="218.30" font-size="12.08" fill="#ff0000" stroke="#ff0000" stroke-width="0.2">1</text>
<text transform="scale(0.8728,1)" x="167.01 180.10 195.44 207.01 219.33" y="509.70" font-size="17.22" fill="#ff0000" stroke="#ff0000" stroke-width="0.2">RMSE:</text>
<text transform="scale(0.9516,1)" x="211.97 222.68 233.15 238.77 249.37" y="509.70" font-size="17.22" fill="#ff0000" stroke="#ff0000" stroke-width="0.2">15.81</text>
<text transform="scale(1.0049,1)" x="246.20 261.25 270.62" y="509.70" font-size="17.22" fill="#ff0000" stroke="#ff0000" stroke-width="0.2">meV</text>
<text transform="scale(1.2199,1)" x="234.20" y="508.80" font-size="17.22" fill="#ff0000" stroke="#ff0000" stroke-width="0.2">·</text>
<text transform="scale(0.9109,1)" x="324.70" y="509.70" font-size="17.22" fill="#ff0000" stroke="#ff0000" stroke-width="0.2">Å</text>
<text transform="scale(1.1246,1)" x="274.16" y="504.00" font-size="12.08" fill="#ff0000" stroke="#ff0000" stroke-width="0.2">−</text>
<text transform="scale(0.9217,1)" x="343.57" y="504.00" font-size="12.08" fill="#ff0000" stroke="#ff0000" stroke-width="0.2">1</text>
<text transform="scale(0.8728,1)" x="562.64 575.73 591.07 602.64 614.95" y="509.70" font-size="17.22" fill="#ff0000" stroke="#ff0000" stroke-width="0.2">RMSE:</text>
<text transform="scale(0.9572,1)" x="571.47 582.19 592.67 598.22 609.01" y="509.70" font-size="17.22" fill="#ff0000" stroke="#ff0000" stroke-width="0.2">15.16</text>
<text transform="scale(1.0049,1)" x="589.83 604.88 614.25" y="509.70" font-size="17.22" fill="#ff0000" stroke="#ff0000" stroke-width="0.2">meV</text>
<text transform="scale(1.2199,1)" x="517.25" y="508.80" font-size="17.22" fill="#ff0000" stroke="#ff0000" stroke-width="0.2">·</text>
<text transform="scale(0.9109,1)" x="703.78" y="509.70" font-size="17.22" fill="#ff0000" stroke="#ff0000" stroke-width="0.2">Å</text>
<text transform="scale(1.1246,1)" x="581.20" y="504.00" font-size="12.08" fill="#ff0000" stroke="#ff0000" stroke-width="0.2">−</text>
<text transform="scale(0.9217,1)" x="718.22" y="504.00" font-size="12.08" fill="#ff0000" stroke="#ff0000" stroke-width="0.2">1</text>
<text transform="scale(0.9587,1)" x="136.59 149.39 159.58" y="276.70" font-size="17.22" fill="#000" stroke="#000" stroke-width="0.2">DFT</text>
<text transform="scale(0.9619,1)" x="174.94 181.97 191.94" y="276.70" font-size="17.22" fill="#000" stroke="#000" stroke-width="0.2">(eV</text>
<text transform="scale(1.2199,1)" x="162.39" y="275.80" font-size="17.22" fill="#000" stroke="#000" stroke-width="0.2">·</text>
<text transform="scale(1.0906,1)" x="190.54 201.36 206.87 216.94" y="276.70" font-size="17.22" fill="#000" stroke="#000" stroke-width="0.2">atom</text>
<text transform="scale(1.2098,1)" x="208.69" y="271.00" font-size="12.08" fill="#000" stroke="#000" stroke-width="0.2">−</text>
<text transform="scale(0.9793,1)" x="267.45" y="271.00" font-size="12.08" fill="#000" stroke="#000" stroke-width="0.2">1</text>
<text transform="scale(0.9638,1)" x="280.35" y="276.70" font-size="17.22" fill="#000" stroke="#000" stroke-width="0.2">)</text>
<text transform="scale(0.9587,1)" x="496.05 508.85 519.04" y="276.70" font-size="17.22" fill="#000" stroke="#000" stroke-width="0.2">DFT</text>
<text transform="scale(0.9619,1)" x="533.19 540.22 550.19" y="276.70" font-size="17.22" fill="#000" stroke="#000" stroke-width="0.2">(eV</text>
<text transform="scale(1.2199,1)" x="444.87" y="275.80" font-size="17.22" fill="#000" stroke="#000" stroke-width="0.2">·</text>
<text transform="scale(1.0906,1)" x="506.50 517.33 522.84 532.90" y="276.70" font-size="17.22" fill="#000" stroke="#000" stroke-width="0.2">atom</text>
<text transform="scale(1.2098,1)" x="493.53" y="271.00" font-size="12.08" fill="#000" stroke="#000" stroke-width="0.2">−</text>
<text transform="scale(0.9793,1)" x="619.35" y="271.00" font-size="12.08" fill="#000" stroke="#000" stroke-width="0.2">1</text>
<text transform="scale(0.9638,1)" x="637.89" y="276.70" font-size="17.22" fill="#000" stroke="#000" stroke-width="0.2">)</text>
<text transform="scale(0.9602,1)" x="153.45 166.25 176.44" y="563.50" font-size="17.22" fill="#000" stroke="#000" stroke-width="0.2">DFT</text>
<text transform="scale(0.9634,1)" x="191.74 198.77 208.75" y="563.50" font-size="17.22" fill="#000" stroke="#000" stroke-width="0.2">(eV</text>
<text transform="scale(1.2199,1)" x="175.92" y="562.60" font-size="17.22" fill="#000" stroke="#000" stroke-width="0.2">·</text>
<text transform="scale(0.9109,1)" x="247.08" y="563.50" font-size="17.22" fill="#000" stroke="#000" stroke-width="0.2">Å</text>
<text transform="scale(1.2098,1)" x="195.88" y="557.80" font-size="12.08" fill="#000" stroke="#000" stroke-width="0.2">−</text>
<text transform="scale(0.9793,1)" x="251.62" y="557.80" font-size="12.08" fill="#000" stroke="#000" stroke-width="0.2">1</text>
<text transform="scale(0.9638,1)" x="264.27" y="563.50" font-size="17.22" fill="#000" stroke="#000" stroke-width="0.2">)</text>
<text transform="scale(0.9602,1)" x="513.18 525.98 536.17" y="563.50" font-size="17.22" fill="#000" stroke="#000" stroke-width="0.2">DFT</text>
<text transform="scale(0.9634,1)" x="550.26 557.29 567.26" y="563.50" font-size="17.22" fill="#000" stroke="#000" stroke-width="0.2">(eV</text>
<text transform="scale(1.2199,1)" x="459.05" y="562.60" font-size="17.22" fill="#000" stroke="#000" stroke-width="0.2">·</text>
<text transform="scale(0.9109,1)" x="626.27" y="563.50" font-size="17.22" fill="#000" stroke="#000" stroke-width="0.2">Å</text>
<text transform="scale(1.2098,1)" x="481.38" y="557.80" font-size="12.08" fill="#000" stroke="#000" stroke-width="0.2">−</text>
<text transform="scale(0.9793,1)" x="604.34" y="557.80" font-size="12.08" fill="#000" stroke="#000" stroke-width="0.2">1</text>
<text transform="scale(0.9638,1)" x="622.64" y="563.50" font-size="17.22" fill="#000" stroke="#000" stroke-width="0.2">)</text>
<g transform="translate(16.9,0) rotate(-90)">
<text transform="scale(0.9358,1)" x="-220.38 -205.18 -195.72 -190.90" y="0.00" font-size="17.22" fill="#000" stroke="#000" stroke-width="0.2">MLIP</text>
<text transform="scale(0.9653,1)" x="-168.37 -161.34 -151.37" y="0.00" font-size="17.22" fill="#000" stroke="#000" stroke-width="0.2">(eV</text>
<text transform="scale(1.2199,1)" x="-108.69" y="-0.90" font-size="17.22" fill="#000" stroke="#000" stroke-width="0.2">·</text>
<text transform="scale(1.0906,1)" x="-112.69 -101.86 -96.35 -86.29" y="0.00" font-size="17.22" fill="#000" stroke="#000" stroke-width="0.2">atom</text>
<text transform="scale(1.2098,1)" x="-64.65" y="-5.70" font-size="12.08" fill="#000" stroke="#000" stroke-width="0.2">−</text>
<text transform="scale(0.9793,1)" x="-70.26" y="-5.70" font-size="12.08" fill="#000" stroke="#000" stroke-width="0.2">1</text>
<text transform="scale(0.9638,1)" x="-62.77" y="0.00" font-size="17.22" fill="#000" stroke="#000" stroke-width="0.2">)</text>
</g>
<g transform="translate(362.8,0) rotate(-90)">
<text transform="scale(0.9358,1)" x="-220.59 -205.39 -195.93 -191.11" y="0.00" font-size="17.22" fill="#000" stroke="#000" stroke-width="0.2">MLIP</text>
<text transform="scale(0.9653,1)" x="-168.58 -161.55 -151.58" y="0.00" font-size="17.22" fill="#000" stroke="#000" stroke-width="0.2">(eV</text>
<text transform="scale(1.2199,1)" x="-108.85" y="-0.90" font-size="17.22" fill="#000" stroke="#000" stroke-width="0.2">·</text>
<text transform="scale(1.0906,1)" x="-112.87 -102.05 -96.54 -86.47" y="0.00" font-size="17.22" fill="#000" stroke="#000" stroke-width="0.2">atom</text>
<text transform="scale(1.2098,1)" x="-64.82" y="-5.70" font-size="12.08" fill="#000" stroke="#000" stroke-width="0.2">−</text>
<text transform="scale(0.9793,1)" x="-70.46" y="-5.70" font-size="12.08" fill="#000" stroke="#000" stroke-width="0.2">1</text>
<text transform="scale(0.9638,1)" x="-62.98" y="0.00" font-size="17.22" fill="#000" stroke="#000" stroke-width="0.2">)</text>
</g>
<g transform="translate(22.0,0) rotate(-90)">
<text transform="scale(0.9371,1)" x="-508.72 -493.52 -484.06 -479.24" y="0.00" font-size="17.22" fill="#000" stroke="#000" stroke-width="0.2">MLIP</text>
<text transform="scale(0.9667,1)" x="-447.89 -440.86 -430.89" y="0.00" font-size="17.22" fill="#000" stroke="#000" stroke-width="0.2">(eV</text>
<text transform="scale(1.2199,1)" x="-330.34" y="-0.90" font-size="17.22" fill="#000" stroke="#000" stroke-width="0.2">·</text>
<text transform="scale(0.9109,1)" x="-430.93" y="0.00" font-size="17.22" fill="#000" stroke="#000" stroke-width="0.2">Å</text>
<text transform="scale(1.2098,1)" x="-314.61" y="-5.70" font-size="12.08" fill="#000" stroke="#000" stroke-width="0.2">−</text>
<text transform="scale(0.9793,1)" x="-379.06" y="-5.70" font-size="12.08" fill="#000" stroke="#000" stroke-width="0.2">1</text>
<text transform="scale(0.9638,1)" x="-376.52" y="0.00" font-size="17.22" fill="#000" stroke="#000" stroke-width="0.2">)</text>
</g>
<g transform="translate(367.6,0) rotate(-90)">
<text transform="scale(0.9371,1)" x="-508.72 -493.52 -484.06 -479.24" y="0.00" font-size="17.22" fill="#000" stroke="#000" stroke-width="0.2">MLIP</text>
<text transform="scale(0.9667,1)" x="-447.89 -440.86 -430.89" y="0.00" font-size="17.22" fill="#000" stroke="#000" stroke-width="0.2">(eV</text>
<text transform="scale(1.2199,1)" x="-330.34" y="-0.90" font-size="17.22" fill="#000" stroke="#000" stroke-width="0.2">·</text>
<text transform="scale(0.9109,1)" x="-430.93" y="0.00" font-size="17.22" fill="#000" stroke="#000" stroke-width="0.2">Å</text>
<text transform="scale(1.2098,1)" x="-314.61" y="-5.70" font-size="12.08" fill="#000" stroke="#000" stroke-width="0.2">−</text>
<text transform="scale(0.9793,1)" x="-379.06" y="-5.70" font-size="12.08" fill="#000" stroke="#000" stroke-width="0.2">1</text>
<text transform="scale(0.9638,1)" x="-376.52" y="0.00" font-size="17.22" fill="#000" stroke="#000" stroke-width="0.2">)</text>
</g>
</svg>
</body></html>
